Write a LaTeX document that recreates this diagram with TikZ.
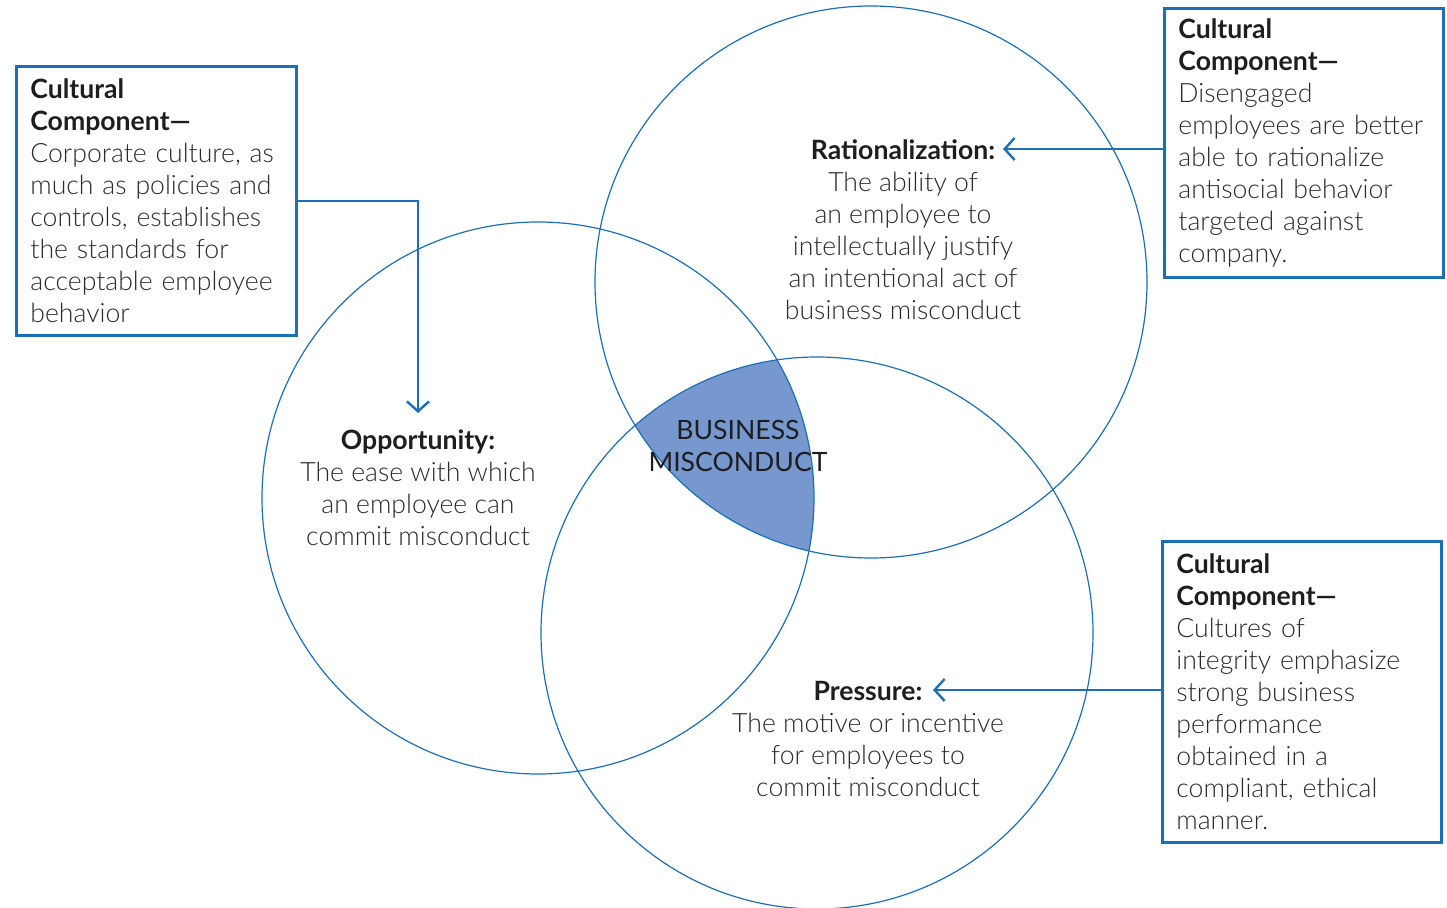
\documentclass[tikz,border=0pt]{standalone}
\usepackage{fontspec}
\setmainfont{Lato}[UprightFont=* Light, BoldFont=* Bold]
\newfontfamily\medfont{Lato}
\usetikzlibrary{arrows.meta}
\definecolor{cblue}{HTML}{1B6FB6}
\definecolor{cfill}{HTML}{7797CF}
\definecolor{ctext}{HTML}{2A2A2A}
\definecolor{chead}{HTML}{1E1E1E}
\begin{document}
\begin{tikzpicture}[x=0.5pt,y=-0.5pt,
  circ/.style={circle, draw=cblue, line width=0.6pt, inner sep=0pt, minimum size=276pt},
  cbox/.style={draw=cblue, line width=1.4pt, anchor=north west, align=left, inner xsep=7pt, inner ysep=0pt, text=ctext, font=\fontsize{13.3}{16}\selectfont},
  link/.style={draw=cblue, line width=1.2pt, -{Straight Barb[length=5pt,width=11pt,line width=1.2pt]}},
  lbl/.style={align=center, anchor=north, inner sep=0pt, text=ctext, font=\fontsize{13.3}{16}\selectfont}]
\useasboundingbox (0,0) rectangle (1447,908);
% shaded intersection
\begin{scope}
  \clip (538,498) circle[radius=138pt];
  \clip (871,282) circle[radius=138pt];
  \fill[cfill] (817,633) circle[radius=138pt];
\end{scope}
% circles
\node[circ] (opp) at (538,498) {};
\node[circ] (rat) at (871,282) {};
\node[circ] (pre) at (817,633) {};
% circle labels
\node[lbl] (oppL) at (418,429) {{\bfseries\color{chead}Opportunity:}\\The ease with which\\an employee can\\commit misconduct};
\node[lbl] (ratL) at (903,139) {{\bfseries\color{chead}Rationalization:}\\The ability of\\an employee to\\intellectually justify\\an intentional act of\\business misconduct};
\node[lbl] (preL) at (868,681) {{\bfseries\color{chead}Pressure:}\\The motive or incentive\\for employees to\\commit misconduct};
\node[lbl, text=chead, font=\fontsize{13.3}{16}\medfont] (bm) at (738,420) {BUSINESS\\MISCONDUCT};
% boxes
\node[cbox, text width=126pt, minimum width=140pt, minimum height=134.5pt] (boxL) at (15,65)
  {{\bfseries\color{chead}Cultural\\Component—}\\Corporate culture, as\\much as policies and\\controls, establishes\\the standards for\\acceptable employee\\behavior};
\node[cbox, text width=125.5pt, minimum width=139.5pt, minimum height=134.5pt] (boxTR) at (1163,7)
  {{\bfseries\color{chead}Cultural\\Component—}\\Disengaged\\employees are better\\able to rationalize\\antisocial behavior\\targeted against\\company.};
\node[cbox, text width=125.5pt, minimum width=139.5pt, minimum height=150.5pt] (boxBR) at (1161,540)
  {{\bfseries\color{chead}Cultural\\Component—}\\Cultures of\\integrity emphasize\\strong business\\performance\\obtained in a\\compliant, ethical\\manner.};
% connectors
\coordinate (oppTip) at (418,413);
\coordinate (ratTip) at (1003,149);
\coordinate (preTip) at (933,690);
\draw[link] (boxL.east) -| (oppTip);
\draw[link] (boxTR.west |- ratTip) -- (ratTip);
\draw[link] (boxBR.west |- preTip) -- (preTip);
\end{tikzpicture}
\end{document}
